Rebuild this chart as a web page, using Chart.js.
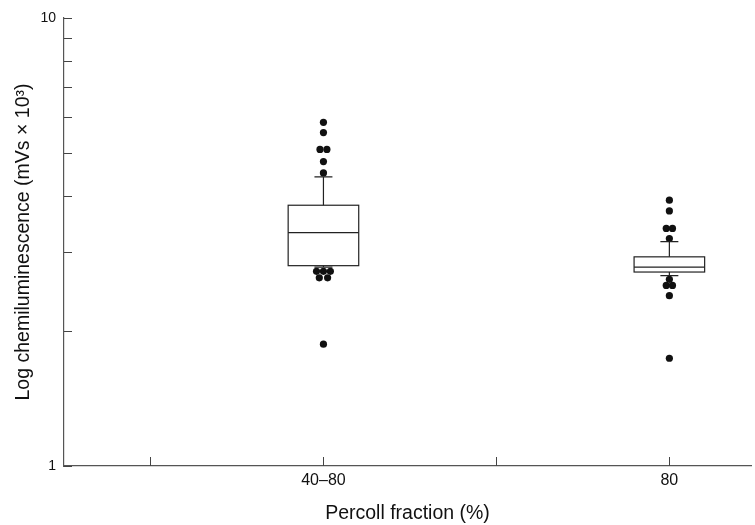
<!DOCTYPE html>
<html>
<head>
<meta charset="utf-8">
<script src="https://cdn.jsdelivr.net/npm/chart.js@4/dist/chart.umd.min.js"></script>
<style>
  html, body { margin: 0; padding: 0; background: #fff; }
  #wrap { width: 755px; height: 525px; }
</style>
</head>
<body>
<div id="wrap"><canvas id="chart"></canvas></div>
<script>
// categories and their positions on the x axis
const categories = ['40–80', '80'];
const catPos = [1, 2];
const xTickPos = [0.5, 1, 1.5, 2];
const yTickVals = [1, 2, 3, 4, 5, 6, 7, 8, 9, 10];
const yLabelled = [1, 10];

// box plot summaries (mVs x 10^3)
const whiskerLow = [2.78, 2.66];
const q1 = [2.80, 2.71];
const median = [3.32, 2.78];
const q3 = [3.82, 2.93];
const whiskerHigh = [4.42, 3.17];

// outlying points, with small horizontal jitter
const outliers4080 = [5.85, 5.55, 5.09, 5.09, 4.78, 4.51, 2.72, 2.72, 2.72, 2.63, 2.63, 1.87];
const jitter4080 = [0, 0, -0.01, 0.01, 0, 0, -0.02, 0, 0.02, -0.012, 0.012, 0];
const outliers80 = [3.92, 3.71, 3.39, 3.39, 3.22, 2.61, 2.53, 2.53, 2.40, 1.74];
const jitter80 = [0, 0, -0.009, 0.009, 0, 0, -0.009, 0.009, 0, 0];

const boxHalf = 0.102;
const capHalf = 0.026;

function points(pos, vals, jit) {
  return vals.map((v, i) => ({ x: pos + jit[i], y: v }));
}

const boxPlugin = {
  id: 'boxes',
  afterDatasetsDraw(chart) {
    const ctx = chart.ctx;
    const xs = chart.scales.x, ys = chart.scales.y;
    ctx.save();
    ctx.strokeStyle = '#222';
    ctx.lineWidth = 1.2;
    catPos.forEach((p, i) => {
      const l = xs.getPixelForValue(p - boxHalf);
      const r = xs.getPixelForValue(p + boxHalf);
      const c = xs.getPixelForValue(p);
      const cl = xs.getPixelForValue(p - capHalf);
      const cr = xs.getPixelForValue(p + capHalf);
      const yq1 = ys.getPixelForValue(q1[i]);
      const yq3 = ys.getPixelForValue(q3[i]);
      const ym = ys.getPixelForValue(median[i]);
      const yh = ys.getPixelForValue(whiskerHigh[i]);
      const yl = ys.getPixelForValue(whiskerLow[i]);
      ctx.strokeRect(l, yq3, r - l, yq1 - yq3);
      ctx.beginPath();
      ctx.moveTo(l, ym); ctx.lineTo(r, ym);
      ctx.moveTo(c, yq3); ctx.lineTo(c, yh);
      ctx.moveTo(cl, yh); ctx.lineTo(cr, yh);
      ctx.moveTo(c, yq1); ctx.lineTo(c, yl);
      ctx.moveTo(cl, yl); ctx.lineTo(cr, yl);
      ctx.stroke();
    });
    ctx.restore();
  },
  afterDraw(chart) {
    // inward tick marks
    const ctx = chart.ctx;
    const xs = chart.scales.x, ys = chart.scales.y;
    const a = chart.chartArea;
    ctx.save();
    ctx.strokeStyle = '#444';
    ctx.lineWidth = 1;
    ctx.beginPath();
    ys.ticks.forEach(t => {
      const y = Math.round(ys.getPixelForValue(t.value)) + 0.5;
      ctx.moveTo(a.left, y); ctx.lineTo(a.left + 8, y);
    });
    xs.ticks.forEach(t => {
      const x = Math.round(xs.getPixelForValue(t.value)) + 0.5;
      ctx.moveTo(x, a.bottom); ctx.lineTo(x, a.bottom - 9);
    });
    ctx.stroke();
    ctx.restore();
  }
};

const font = 'Liberation Sans, Arial, sans-serif';

new Chart(document.getElementById('chart'), {
  type: 'scatter',
  data: {
    datasets: [
      { data: points(catPos[0], outliers4080, jitter4080) },
      { data: points(catPos[1], outliers80, jitter80) }
    ]
  },
  options: {
    responsive: true,
    maintainAspectRatio: false,
    animation: false,
    layout: { padding: { left: 4, top: 18, right: 0, bottom: 0 } },
    elements: {
      point: { radius: 3.6, backgroundColor: '#111', borderColor: '#111', borderWidth: 0 }
    },
    plugins: { legend: { display: false }, tooltip: { enabled: false } },
    scales: {
      x: {
        type: 'linear',
        min: 0.25,
        max: 2.236,
        grid: { display: false, drawTicks: false },
        border: { display: true, color: '#555', width: 1.2 },
        afterBuildTicks: s => { s.ticks = xTickPos.map(v => ({ value: v })); },
        afterFit: s => { s.height = 59; },
        ticks: {
          color: '#111',
          font: { family: font, size: 16 },
          padding: 5,
          maxRotation: 0,
          autoSkip: false,
          callback: v => {
            const i = catPos.indexOf(v);
            return i >= 0 ? categories[i] : '';
          }
        },
        title: {
          display: true,
          text: 'Percoll fraction (%)',
          color: '#111',
          font: { family: font, size: 19.5 },
          padding: { top: 0, bottom: 0 }
        }
      },
      y: {
        type: 'logarithmic',
        min: 1,
        max: 10,
        grid: { display: false, drawTicks: false },
        border: { display: true, color: '#555', width: 1.2 },
        afterBuildTicks: s => { s.ticks = yTickVals.map(v => ({ value: v })); },
        afterFit: s => { s.width = 60; },
        ticks: {
          color: '#111',
          font: { family: font, size: 14 },
          padding: 8,
          autoSkip: false,
          callback: v => yLabelled.includes(v) ? String(v) : ''
        },
        title: {
          display: true,
          text: 'Log chemiluminescence (mVs × 10³)',
          color: '#111',
          font: { family: font, size: 19.5 },
          padding: { top: 8, bottom: 0 }
        }
      }
    }
  },
  plugins: [boxPlugin]
});
</script>
</body>
</html>
